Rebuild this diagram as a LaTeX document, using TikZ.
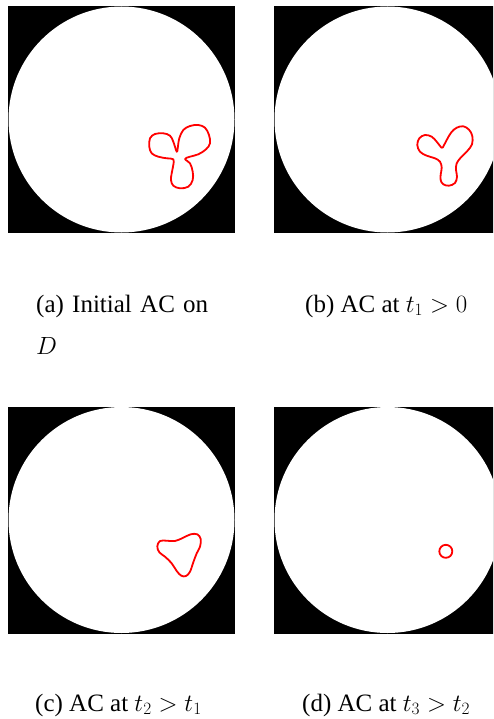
\documentclass[tikz,border=0pt]{standalone}
\usepackage{fontspec}
\setmainfont{Liberation Serif}
\usetikzlibrary{positioning}
\tikzset{
  frame/.style={fill=black},
  disc/.style={fill=white},
  contour/.style={draw=red, line width=1.8pt, line join=round},
  subcap/.style={anchor=base west, inner sep=0pt, align=left, font=\fontsize{25}{42}\selectfont}
}
\begin{document}
\begin{tikzpicture}[x=1pt, y=-1pt]
  \useasboundingbox (0,0) rectangle (493,719);
  \clip (0,0) rectangle (493,719);
  % the four frames
  \foreach \cx/\cy in {121.5/119.5, 387.5/119.5, 121.5/520, 387.5/520} {
    \fill[frame] (\cx-113.5,\cy-113.5) rectangle (\cx+113.5,\cy+113.5);
    \fill[disc] (\cx,\cy) circle (113);
  }
  % (a) initial contour
  \draw[contour] plot[smooth cycle, tension=0.6] coordinates {
    (176.7,151.7) (173.3,141.7) (170,135.7) (163.3,133.3) (155,134) (150,138.3)
    (149.3,146.7) (151.7,153.3) (158.3,156.7) (166.7,158.3) (173.3,159.3)
    (173.3,165) (171.7,173.3) (171,180) (173.3,185.7) (180,188.3) (188.3,186.7)
    (192.7,180) (192.7,171.7) (190,163.3) (185,159) (190,156.7) (198.3,154.3)
    (206,149.3) (210,143.3) (209,135) (205,127.7) (198.3,125) (190,126)
    (183.3,130) (179.3,138.3) (177.7,148.3)};
  % (b)
  \draw[contour] plot[smooth cycle, tension=0.6] coordinates {
    (441.7,147.7) (436.7,141.7) (431.7,136.7) (425,135) (419.3,138.3) (417.3,145)
    (420,151.7) (426.7,155.7) (435,158.3) (440,161.7) (441.7,167.7) (440.7,174.3)
    (440.7,180.3) (443.3,184.3) (449,185.7) (455,183) (457,176.7) (456,170)
    (456.7,163.3) (460.7,157.7) (467.3,151) (472,144.3) (472.3,136) (469,129.7)
    (463.3,126.3) (456.7,127.7) (451.3,132.3) (446.7,140) (443.7,145.7)};
  % (c)
  \draw[contour] plot[smooth cycle, tension=0.6] coordinates {
    (160,541) (166.7,540.7) (175,541) (183.3,537.7) (190.7,534.3) (197.3,534.3)
    (200.7,539) (200,546.7) (196.7,553.3) (193.3,562.3) (190,571.7) (186,576)
    (181.3,575.7) (176.7,571) (171.7,563.3) (165,556.7) (159.3,552.3) (157.3,546.3)};
  % (d)
  \draw[contour] (445.8,551.3) circle (6.5);
  % captions
  \node[subcap] (capa) at (36,354) {\makebox[172pt][s]{(a) Initial AC on}\\$D$};
  \node[subcap] (capb) at (305,312) {(b) AC at $t_1>0$};
  \node[subcap] (capc) at (35,711) {(c) AC at $t_2>t_1$};
  \node[subcap] (capd) at (302,711) {(d) AC at $t_3>t_2$};
\end{tikzpicture}
\end{document}
